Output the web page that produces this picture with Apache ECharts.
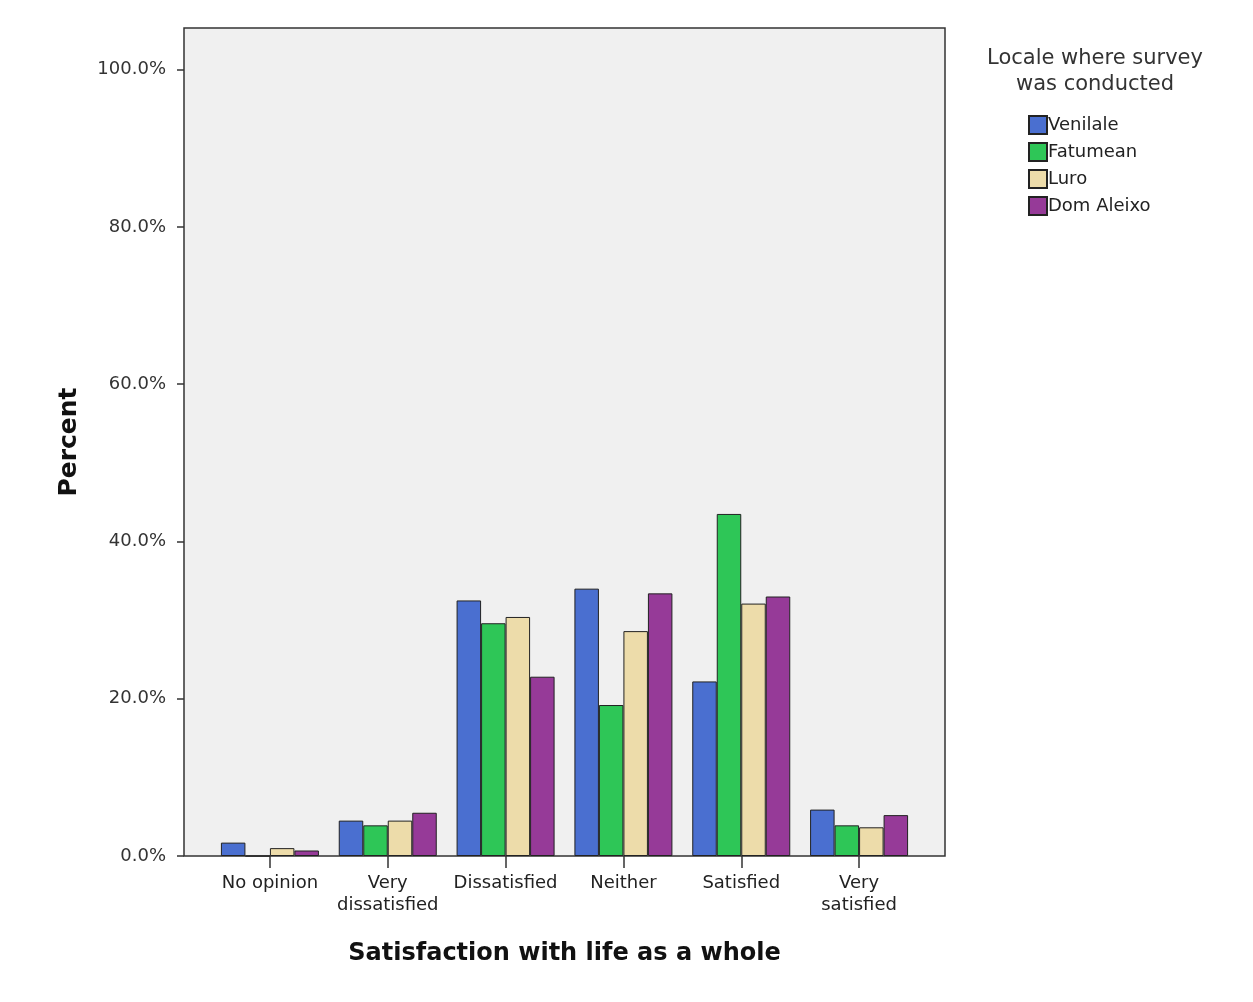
<!DOCTYPE html>
<html>
<head>
<meta charset="utf-8">
<script src="https://cdn.jsdelivr.net/npm/echarts@6/dist/echarts.min.js"></script>
<style>
html,body{margin:0;padding:0;background:#fff;}
#chart{width:1253px;height:1002px;}
</style>
</head>
<body>
<div id="chart"></div>
<script>
var categories = ['No opinion', 'Very\ndissatisfied', 'Dissatisfied', 'Neither', 'Satisfied', 'Very\nsatisfied'];
var seriesNames = ['Venilale', 'Fatumean', 'Luro', 'Dom Aleixo'];
var venilale  = [1.7, 4.5, 32.5, 34.0, 22.2, 5.9];
var fatumean  = [0.0, 3.9, 29.6, 19.2, 43.5, 3.9];
var luro      = [1.0, 4.5, 30.4, 28.6, 32.1, 3.65];
var domAleixo = [0.7, 5.5, 22.8, 33.4, 33.0, 5.2];
var yTicks = [0, 20, 40, 60, 80, 100];

var colors = ['#4a6fd0', '#2ec657', '#eddcaa', '#963a98'];
var values = [venilale, fatumean, luro, domAleixo];

var chart = echarts.init(document.getElementById('chart'));
var font = 'DejaVu Sans, Verdana, sans-serif';

var series = seriesNames.map(function (n, i) {
  return {
    name: n,
    type: 'bar',
    data: values[i],
    barWidth: 24.5,
    barGap: '0%',
    itemStyle: { color: colors[i], borderColor: '#222', borderWidth: 1 }
  };
});

chart.setOption({
  animation: false,
  backgroundColor: '#ffffff',
  color: colors,
  title: {
    text: 'Locale where survey\nwas conducted',
    left: 1090,
    top: 41,
    textAlign: 'center',
    textStyle: { fontFamily: font, fontSize: 21, fontWeight: 'normal', color: '#333', lineHeight: 26 }
  },
  legend: {
    orient: 'vertical',
    left: 1023,
    top: 110,
    itemWidth: 18,
    itemHeight: 18,
    itemGap: 7,
    icon: 'rect',
    textStyle: { fontFamily: font, fontSize: 18, color: '#222', lineHeight: 18, padding: [0, 0, 0, -4] },
    data: seriesNames
  },
  grid: { left: 211, right: 335, top: 28, bottom: 146 },
  graphic: [{
    type: 'rect',
    z: -10,
    shape: { x: 184, y: 28, width: 761, height: 828 },
    style: { fill: '#f0f0f0', stroke: '#333', lineWidth: 1.5 }
  }],
  xAxis: {
    type: 'category',
    data: categories,
    axisLine: { show: false },
    axisTick: { show: true, interval: 0, alignWithLabel: true, length: 12, lineStyle: { color: '#333', width: 1.5 } },
    axisLabel: { interval: 0, fontFamily: font, fontSize: 18, color: '#222', margin: 16, lineHeight: 22 },
    name: 'Satisfaction with life as a whole',
    nameLocation: 'middle',
    nameGap: 86,
    nameTextStyle: { fontFamily: font, fontSize: 24, fontWeight: 'bold', color: '#111' }
  },
  yAxis: {
    type: 'value',
    min: 0,
    max: 105.3,
    interval: 20,
    offset: 27,
    splitLine: { show: false },
    axisLine: { show: false },
    axisTick: { show: true, length: 7, lineStyle: { color: '#333', width: 1.5 } },
    axisLabel: {
      fontFamily: font, fontSize: 18, color: '#333', margin: 18, showMaxLabel: false,
      formatter: function (v) { return yTicks.indexOf(v) >= 0 ? v.toFixed(1) + '%' : ''; }
    },
    name: 'Percent',
    nameLocation: 'middle',
    nameGap: 102,
    nameTextStyle: { fontFamily: font, fontSize: 25, fontWeight: 'bold', color: '#111' }
  },
  series: series
});
</script>
</body>
</html>
